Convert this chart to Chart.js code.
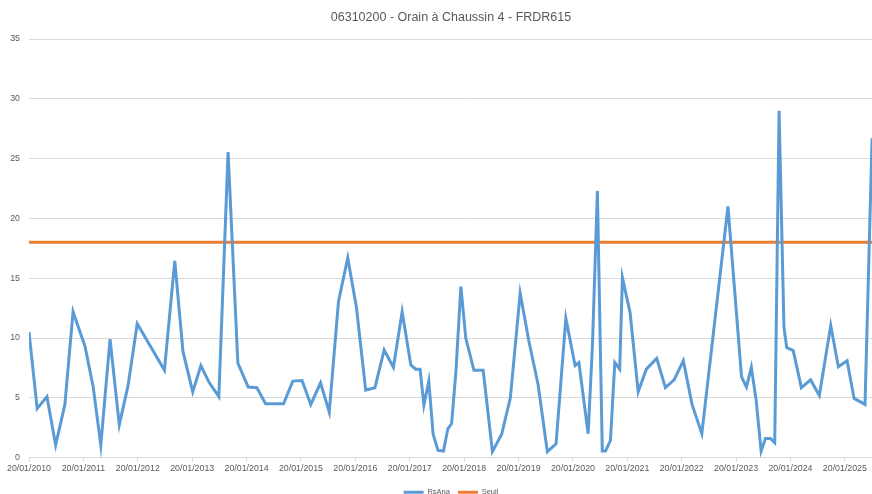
<!DOCTYPE html>
<html>
<head>
<meta charset="utf-8">
<script src="https://cdn.jsdelivr.net/npm/chart.js@4.4.0/dist/chart.umd.min.js"></script>
<style>
  html, body { margin: 0; padding: 0; background: #fff; overflow: hidden; }
  #wrap { width: 872px; height: 494px; overflow: hidden; }
</style>
</head>
<body>
<div id="wrap"><canvas id="chart" width="912" height="506"></canvas></div>
<script>
// dates as decimal years (2010.00 = 20/01/2010)
const dates = [
  2010.00, 2010.15, 2010.33, 2010.49, 2010.66, 2010.81, 2011.03, 2011.18, 2011.32, 2011.49,
  2011.66, 2011.82, 2011.99, 2012.49, 2012.68, 2012.83, 2013.01, 2013.16, 2013.31, 2013.49,
  2013.66, 2013.84, 2014.03, 2014.19, 2014.35, 2014.68, 2014.85, 2015.02, 2015.18, 2015.36,
  2015.52, 2015.69, 2015.86, 2016.02, 2016.19, 2016.36, 2016.53, 2016.70, 2016.86, 2017.02,
  2017.11, 2017.19, 2017.26, 2017.35, 2017.43, 2017.52, 2017.62, 2017.70, 2017.77, 2017.85,
  2017.94, 2018.03, 2018.18, 2018.35, 2018.52, 2018.69, 2018.85, 2019.03, 2019.19, 2019.36,
  2019.53, 2019.69, 2019.87, 2020.04, 2020.11, 2020.28, 2020.36, 2020.45, 2020.54, 2020.60,
  2020.69, 2020.77, 2020.86, 2020.91, 2021.05, 2021.20, 2021.35, 2021.54, 2021.70, 2021.86,
  2022.03, 2022.19, 2022.37, 2022.85, 2023.10, 2023.19, 2023.28, 2023.37, 2023.46, 2023.54,
  2023.63, 2023.71, 2023.79, 2023.88, 2023.93, 2024.05, 2024.20, 2024.37, 2024.53, 2024.74,
  2024.88, 2025.04, 2025.17, 2025.37, 2025.50
];

const rsAna = [
  10.5, 4.1, 5.1, 1.05, 4.45, 12.2, 9.3, 5.9, 1.05, 9.9,
  2.75, 6.0, 11.2, 7.3, 16.45, 8.9, 5.5, 7.7, 6.3, 5.1,
  25.55, 7.9, 5.9, 5.85, 4.5, 4.5, 6.4, 6.45, 4.45, 6.25,
  3.8, 13.05, 16.7, 12.55, 5.65, 5.85, 9.0, 7.55, 12.2, 7.75,
  7.4, 7.4, 4.4, 6.4, 1.95, 0.6, 0.55, 2.4, 2.85, 7.25,
  14.3, 10.0, 7.3, 7.3, 0.5, 1.95, 5.0, 13.75, 9.75, 6.1,
  0.5, 1.15, 11.65, 7.7, 7.95, 2.0, 9.5, 22.3, 0.55, 0.55,
  1.45, 7.95, 7.4, 15.05, 12.15, 5.5, 7.4, 8.3, 5.85, 6.5,
  8.1, 4.45, 2.0, 21.0, 6.75, 5.9, 7.55, 4.75, 0.55, 1.6,
  1.6, 1.25, 29.0, 10.9, 9.2, 8.95, 5.85, 6.5, 5.2, 11.05,
  7.6, 8.1, 4.95, 4.45, 26.7
];

const seuil = 18;
const xMin = 2010;
const xMax = 2026.05;
const yTicks = [0, 5, 10, 15, 20, 25, 30, 35];

const FONT = "'Liberation Sans', Arial, sans-serif";
const GREY = '#595959';
const GRID = '#d9d9d9';

new Chart(document.getElementById('chart'), {
  type: 'line',
  data: {
    datasets: [
      {
        label: 'RsAna',
        data: dates.map((d, i) => ({ x: d, y: rsAna[i] })),
        borderColor: '#5b9bd5',
        backgroundColor: '#5b9bd5',
        borderWidth: 3,
        pointRadius: 0,
        tension: 0
      },
      {
        label: 'Seuil',
        data: [{ x: xMin, y: seuil }, { x: xMax, y: seuil }],
        borderColor: '#ed7d31',
        backgroundColor: '#ed7d31',
        borderWidth: 3,
        pointRadius: 0,
        tension: 0
      }
    ]
  },
  options: {
    responsive: false,
    animation: false,
    layout: { padding: { left: 0, right: 10, top: 0, bottom: 0 } },
    plugins: {
      title: {
        display: true,
        text: '06310200 - Orain à Chaussin 4 - FRDR615',
        color: GREY,
        font: { family: FONT, size: 12.5, weight: 'normal' },
        padding: { top: 10, bottom: 14 }
      },
      legend: {
        position: 'bottom',
        labels: {
          color: GREY,
          font: { family: FONT, size: 7.5 },
          boxWidth: 20,
          boxHeight: 3,
          padding: 8,
          generateLabels: (chart) => Chart.defaults.plugins.legend.labels.generateLabels(chart)
            .map(l => ({ ...l, fillStyle: l.strokeStyle, lineWidth: 0 }))
        }
      },
      tooltip: { enabled: false }
    },
    scales: {
      x: {
        type: 'linear',
        min: xMin,
        max: xMax,
        afterFit: (axis) => {
          axis.height += 4.3;
          axis.paddingLeft = 0;
          axis.paddingRight = 0;
        },
        grid: { drawOnChartArea: false, drawTicks: true, tickLength: 4, color: GRID },
        border: { color: GRID },
        ticks: {
          stepSize: 1,
          includeBounds: false,
          autoSkip: false,
          maxRotation: 0,
          padding: 2,
          color: GREY,
          font: { family: FONT, size: 8.8 },
          callback: (v) => '20/01/' + v
        }
      },
      y: {
        min: 0,
        max: 35,
        afterBuildTicks: (axis) => { axis.ticks = yTicks.map(v => ({ value: v })); },
        afterFit: (axis) => { axis.width = 29; },
        grid: { color: GRID, drawTicks: false },
        border: { display: false },
        ticks: {
          padding: 9,
          color: GREY,
          font: { family: FONT, size: 8.8 }
        }
      }
    }
  }
});
</script>
</body>
</html>
